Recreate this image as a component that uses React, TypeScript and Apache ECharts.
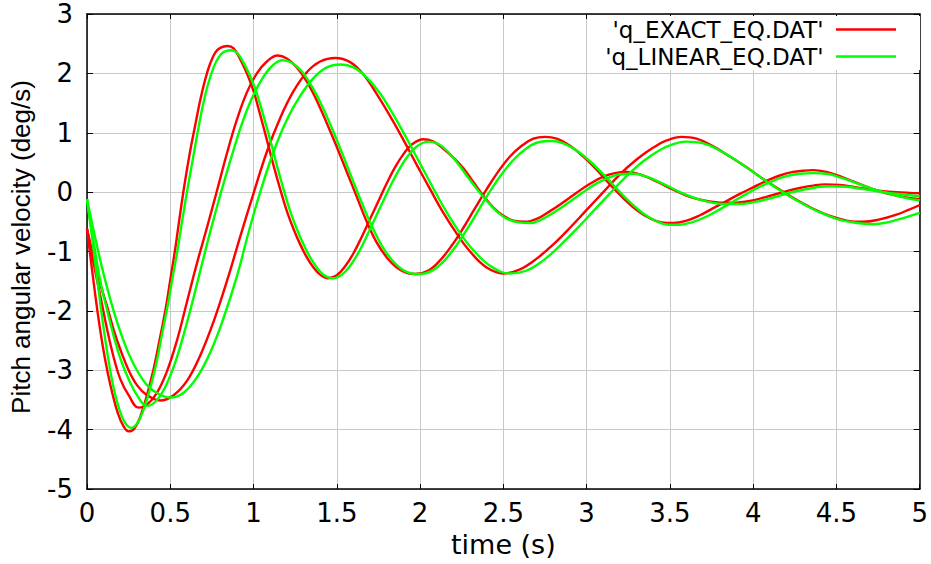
import React, { useEffect, useRef } from 'react';
import * as echarts from 'echarts';

// time (s), pitch angular velocity (deg/s)
const exactA: [number, number][] = [
  [0, -0.62], [0.03, -1.3], [0.065, -2.05], [0.095, -2.6], [0.125, -3.05], [0.155, -3.42], [0.185, -3.72],
  [0.215, -3.92], [0.25, -4.03], [0.285, -3.98], [0.32, -3.78], [0.36, -3.42], [0.4, -2.98], [0.435, -2.5],
  [0.47, -2.0], [0.5, -1.48], [0.53, -0.95], [0.555, -0.45], [0.585, 0.12], [0.62, 0.7], [0.65, 1.13],
  [0.68, 1.55], [0.71, 1.9], [0.74, 2.17], [0.77, 2.35], [0.8, 2.43], [0.844, 2.46], [0.88, 2.42],
  [0.92, 2.24], [0.96, 2.0], [1.0, 1.7], [1.04, 1.3], [1.08, 0.88], [1.12, 0.45], [1.16, 0.05], [1.2, -0.32],
  [1.24, -0.62], [1.28, -0.88], [1.32, -1.1], [1.36, -1.27], [1.4, -1.39], [1.445, -1.45], [1.5, -1.4],
  [1.55, -1.25], [1.6, -1.03], [1.65, -0.75], [1.7, -0.45], [1.75, -0.15], [1.8, 0.15], [1.85, 0.42],
  [1.9, 0.64], [1.95, 0.8], [2.02, 0.89], [2.08, 0.85], [2.14, 0.73], [2.2, 0.58], [2.26, 0.4], [2.32, 0.17],
  [2.38, -0.06], [2.44, -0.26], [2.5, -0.4], [2.56, -0.48], [2.63, -0.5], [2.7, -0.45], [2.78, -0.32],
  [2.86, -0.17], [2.94, -0.01], [3.02, 0.14], [3.1, 0.26], [3.17, 0.32], [3.24, 0.34], [3.32, 0.3],
  [3.42, 0.18], [3.52, 0.04], [3.62, -0.08], [3.72, -0.15], [3.82, -0.18], [3.88, -0.18], [3.98, -0.15],
  [4.08, -0.08], [4.18, 0.0], [4.28, 0.07], [4.36, 0.11], [4.43, 0.13], [4.52, 0.12], [4.62, 0.08],
  [4.74, 0.03], [4.86, 0.0], [5.0, -0.02],
];

const exactB: [number, number][] = [
  [0, -0.62], [0.04, -1.2], [0.08, -1.75], [0.12, -2.3], [0.16, -2.78], [0.2, -3.15], [0.25, -3.42],
  [0.31, -3.63], [0.36, -3.58], [0.42, -3.38], [0.48, -3.02], [0.54, -2.5], [0.6, -1.85], [0.66, -1.2],
  [0.72, -0.6], [0.78, 0.02], [0.84, 0.65], [0.9, 1.22], [0.96, 1.68], [1.02, 2.0], [1.08, 2.2],
  [1.144, 2.3], [1.2, 2.25], [1.26, 2.1], [1.32, 1.86], [1.38, 1.54], [1.44, 1.16], [1.5, 0.76],
  [1.56, 0.34], [1.62, -0.08], [1.68, -0.5], [1.74, -0.85], [1.8, -1.1], [1.86, -1.27], [1.92, -1.36],
  [1.97, -1.38], [2.05, -1.32], [2.12, -1.15], [2.19, -0.9], [2.26, -0.6], [2.33, -0.27], [2.4, 0.05],
  [2.47, 0.35], [2.54, 0.6], [2.61, 0.78], [2.68, 0.9], [2.75, 0.93], [2.82, 0.9], [2.9, 0.78],
  [2.98, 0.6], [3.06, 0.38], [3.14, 0.13], [3.22, -0.1], [3.3, -0.3], [3.38, -0.44], [3.45, -0.51],
  [3.52, -0.52], [3.6, -0.48], [3.68, -0.39], [3.76, -0.27], [3.84, -0.15], [3.92, -0.03], [4.0, 0.08],
  [4.08, 0.19], [4.16, 0.28], [4.24, 0.34], [4.3, 0.36], [4.36, 0.37], [4.44, 0.34], [4.52, 0.27],
  [4.6, 0.18], [4.7, 0.07], [4.8, -0.02], [4.9, -0.08], [5.0, -0.12],
];

const exactC: [number, number][] = [
  [0, -0.62], [0.04, -1.1], [0.08, -1.55], [0.12, -1.92], [0.16, -2.32], [0.2, -2.65], [0.25, -3.0],
  [0.3, -3.25], [0.36, -3.42], [0.44, -3.51], [0.52, -3.42], [0.6, -3.18], [0.68, -2.75], [0.76, -2.18],
  [0.84, -1.5], [0.92, -0.75], [1.0, -0.02], [1.08, 0.68], [1.16, 1.25], [1.24, 1.7], [1.32, 2.02],
  [1.4, 2.2], [1.49, 2.26], [1.58, 2.19], [1.66, 1.98], [1.74, 1.65], [1.82, 1.28], [1.9, 0.88],
  [1.98, 0.46], [2.06, 0.05], [2.14, -0.35], [2.22, -0.7], [2.3, -1.0], [2.4, -1.27], [2.5, -1.37],
  [2.6, -1.3], [2.7, -1.12], [2.8, -0.88], [2.9, -0.6], [3.0, -0.3], [3.1, 0.0], [3.2, 0.3], [3.3, 0.55],
  [3.4, 0.75], [3.48, 0.87], [3.57, 0.93], [3.66, 0.9], [3.76, 0.77], [3.86, 0.6], [3.96, 0.42],
  [4.06, 0.22], [4.16, 0.04], [4.26, -0.13], [4.36, -0.28], [4.46, -0.4], [4.56, -0.48], [4.66, -0.5],
  [4.76, -0.46], [4.86, -0.38], [4.94, -0.29], [5.0, -0.22],
];

const linearA: [number, number][] = [
  [0, -0.12], [0.03, -0.75], [0.065, -1.55], [0.1, -2.3], [0.13, -2.85], [0.16, -3.3], [0.19, -3.62],
  [0.225, -3.87], [0.265, -3.97], [0.3, -3.9], [0.335, -3.7], [0.375, -3.35], [0.415, -2.9], [0.45, -2.4],
  [0.485, -1.9], [0.515, -1.42], [0.545, -0.95], [0.575, -0.42], [0.605, 0.08], [0.635, 0.55],
  [0.665, 1.02], [0.695, 1.45], [0.725, 1.8], [0.76, 2.1], [0.79, 2.27], [0.82, 2.36], [0.864, 2.39],
  [0.9, 2.35], [0.94, 2.18], [0.98, 1.95], [1.02, 1.66], [1.06, 1.28], [1.1, 0.88], [1.14, 0.45],
  [1.18, 0.05], [1.22, -0.32], [1.26, -0.62], [1.3, -0.88], [1.34, -1.1], [1.38, -1.27], [1.42, -1.39],
  [1.474, -1.45], [1.53, -1.39], [1.58, -1.24], [1.63, -1.02], [1.68, -0.74], [1.73, -0.44], [1.78, -0.14],
  [1.83, 0.15], [1.88, 0.41], [1.93, 0.62], [1.98, 0.77], [2.05, 0.85], [2.11, 0.81], [2.17, 0.67],
  [2.23, 0.47], [2.29, 0.24], [2.35, 0.02], [2.41, -0.18], [2.47, -0.35], [2.53, -0.46], [2.59, -0.51],
  [2.66, -0.52], [2.73, -0.46], [2.81, -0.33], [2.89, -0.18], [2.97, -0.02], [3.05, 0.13], [3.13, 0.24],
  [3.2, 0.3], [3.28, 0.31], [3.36, 0.26], [3.46, 0.14], [3.56, 0.0], [3.66, -0.11], [3.76, -0.18],
  [3.86, -0.2], [3.92, -0.2], [4.02, -0.16], [4.12, -0.09], [4.22, -0.01], [4.32, 0.05], [4.4, 0.09],
  [4.47, 0.1], [4.56, 0.09], [4.66, 0.05], [4.78, 0.0], [4.9, -0.04], [5.0, -0.07],
];

const linearB: [number, number][] = [
  [0, -0.12], [0.04, -0.85], [0.08, -1.5], [0.12, -1.98], [0.16, -2.42], [0.2, -2.8], [0.25, -3.15],
  [0.3, -3.42], [0.36, -3.6], [0.42, -3.5], [0.48, -3.22], [0.54, -2.78], [0.6, -2.2], [0.66, -1.55],
  [0.72, -0.88], [0.78, -0.25], [0.81, 0.05], [0.87, 0.62], [0.93, 1.15], [0.99, 1.58], [1.05, 1.9],
  [1.11, 2.12], [1.174, 2.22], [1.23, 2.18], [1.29, 2.03], [1.35, 1.78], [1.41, 1.46], [1.47, 1.08],
  [1.53, 0.67], [1.59, 0.24], [1.65, -0.18], [1.71, -0.57], [1.77, -0.9], [1.83, -1.14], [1.89, -1.3],
  [1.95, -1.37], [2.0, -1.38], [2.08, -1.31], [2.15, -1.14], [2.22, -0.89], [2.29, -0.59], [2.36, -0.26],
  [2.43, 0.06], [2.5, 0.34], [2.57, 0.57], [2.64, 0.74], [2.71, 0.84], [2.79, 0.86], [2.86, 0.82],
  [2.94, 0.7], [3.02, 0.52], [3.1, 0.3], [3.18, 0.06], [3.26, -0.17], [3.34, -0.36], [3.42, -0.49],
  [3.49, -0.55], [3.56, -0.55], [3.64, -0.5], [3.72, -0.41], [3.8, -0.29], [3.88, -0.16], [3.96, -0.03],
  [4.04, 0.09], [4.12, 0.19], [4.2, 0.27], [4.28, 0.31], [4.36, 0.32], [4.44, 0.31], [4.52, 0.25],
  [4.62, 0.15], [4.72, 0.05], [4.82, -0.03], [4.92, -0.1], [5.0, -0.14],
];

const linearC: [number, number][] = [
  [0, -0.12], [0.04, -0.65], [0.08, -1.15], [0.12, -1.6], [0.16, -2.0], [0.2, -2.35], [0.25, -2.72],
  [0.3, -3.0], [0.36, -3.25], [0.43, -3.4], [0.5, -3.46], [0.58, -3.38], [0.66, -3.12], [0.74, -2.7],
  [0.82, -2.12], [0.9, -1.42], [0.97, -0.68], [1.04, 0.0], [1.12, 0.68], [1.2, 1.22], [1.28, 1.62],
  [1.36, 1.92], [1.44, 2.1], [1.524, 2.15], [1.6, 2.1], [1.68, 1.93], [1.76, 1.66], [1.84, 1.3],
  [1.92, 0.9], [2.0, 0.48], [2.08, 0.06], [2.16, -0.34], [2.24, -0.69], [2.32, -0.98], [2.42, -1.24],
  [2.54, -1.37], [2.64, -1.32], [2.74, -1.15], [2.84, -0.9], [2.94, -0.62], [3.04, -0.32], [3.14, -0.02],
  [3.24, 0.27], [3.34, 0.52], [3.44, 0.71], [3.52, 0.81], [3.6, 0.85], [3.7, 0.82], [3.8, 0.7],
  [3.9, 0.53], [4.0, 0.34], [4.1, 0.14], [4.2, -0.04], [4.3, -0.2], [4.4, -0.34], [4.5, -0.45],
  [4.6, -0.51], [4.72, -0.54], [4.82, -0.5], [4.92, -0.42], [5.0, -0.35],
];

const legendNames = ["'q_EXACT_EQ.DAT'", "'q_LINEAR_EQ.DAT'"];
const seriesColors = ['#ff0000', '#00ff00'];
const xLabel = 'time (s)';
const yLabel = 'Pitch angular velocity (deg/s)';

export default function App() {
  const ref = useRef<HTMLDivElement>(null);

  useEffect(() => {
    const chart = echarts.init(ref.current!, null, { renderer: 'svg' });
    const mk = (name: string, data: [number, number][], color: string) => ({
      type: 'line',
      name,
      data,
      smooth: 0.4,
      showSymbol: false,
      symbol: 'none',
      lineStyle: { color, width: 2.4 },
      itemStyle: { color },
      xAxisIndex: 0,
      yAxisIndex: 0,
    });
    const axisLine = { show: true, onZero: false, lineStyle: { color: '#000', width: 1.5 } };
    const tick = { show: true, inside: true, length: 5, lineStyle: { color: '#000', width: 1 } };
    const labelFont = { fontFamily: 'DejaVu Sans', fontSize: 26, color: '#000' };
    chart.setOption({
      animation: false,
      backgroundColor: '#fff',
      grid: { left: 86, right: 11, top: 14, bottom: 75, containLabel: false },
      legend: {
        data: legendNames,
        orient: 'vertical',
        right: 11,
        top: 16,
        align: 'right',
        itemWidth: 60,
        itemHeight: 2.4,
        itemGap: 0,
        icon: 'rect',
        padding: [0, 24, 0, 10],
        backgroundColor: '#fff',
        selectedMode: false,
        formatter: (n: string) => n + '\u00a0',
        textStyle: { fontFamily: 'DejaVu Sans', fontSize: 23, color: '#000', lineHeight: 27 },
      },
      xAxis: [
        {
          type: 'value', min: 0, max: 5, interval: 0.5, position: 'bottom',
          name: xLabel, nameLocation: 'middle', nameGap: 40,
          nameTextStyle: { fontFamily: 'DejaVu Sans', fontSize: 27, color: '#000' },
          axisLine, axisTick: tick,
          axisLabel: { ...labelFont, margin: 11 },
          splitLine: { show: true, lineStyle: { color: '#c8c8c8', width: 1 } },
        },
        {
          type: 'value', min: 0, max: 5, interval: 0.5, position: 'top',
          axisLine, axisTick: tick, axisLabel: { show: false }, splitLine: { show: false },
        },
      ],
      yAxis: [
        {
          type: 'value', min: -5, max: 3, interval: 1, position: 'left',
          name: yLabel, nameLocation: 'middle', nameGap: 53, nameRotate: 90,
          nameTextStyle: { fontFamily: 'Liberation Sans', fontSize: 26, color: '#000', padding: [0, 0, 0, 9] },
          axisLine, axisTick: { ...tick, length: 6 },
          axisLabel: { ...labelFont, margin: 14 },
          splitLine: { show: true, lineStyle: { color: '#c8c8c8', width: 1 } },
        },
        {
          type: 'value', min: -5, max: 3, interval: 1, position: 'right',
          axisLine, axisTick: { ...tick, length: 6 }, axisLabel: { show: false }, splitLine: { show: false },
        },
      ],
      series: [
        mk(legendNames[0], exactA, seriesColors[0]),
        mk(legendNames[0], exactB, seriesColors[0]),
        mk(legendNames[0], exactC, seriesColors[0]),
        mk(legendNames[1], linearA, seriesColors[1]),
        mk(legendNames[1], linearB, seriesColors[1]),
        mk(legendNames[1], linearC, seriesColors[1]),
      ],
    });
    return () => chart.dispose();
  }, []);

  return <div ref={ref} style={{ position: 'fixed', left: 0, top: 0, width: 931, height: 564 }} />;
}
